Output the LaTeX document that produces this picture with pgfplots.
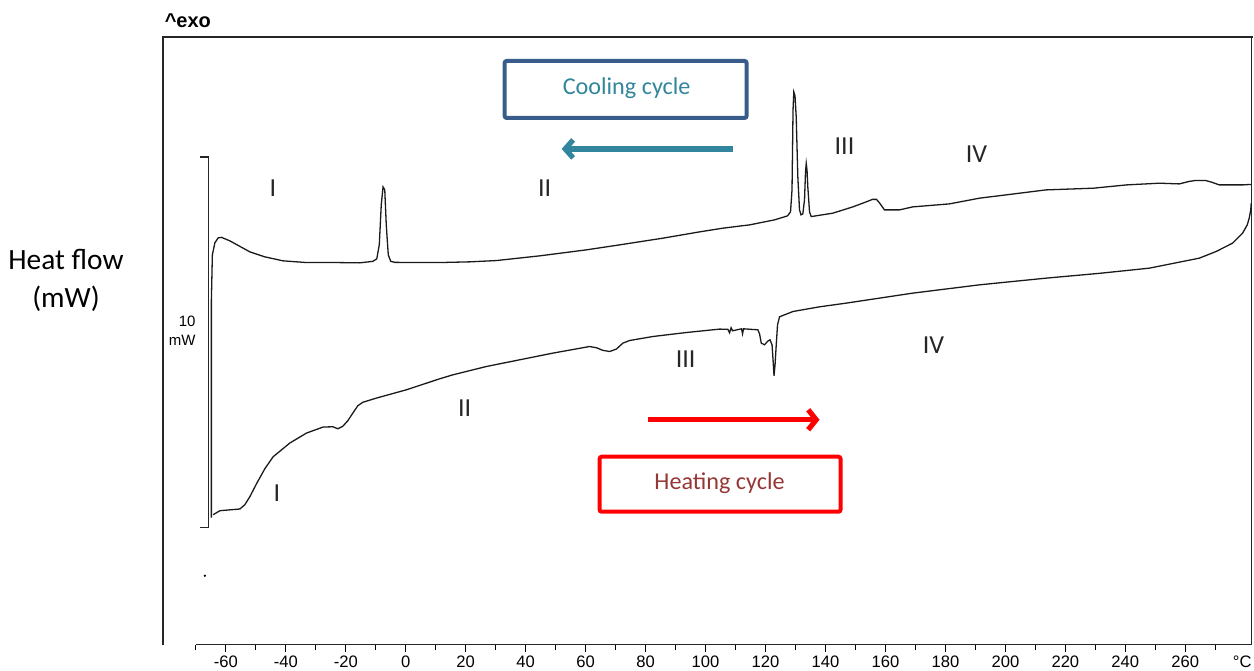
\documentclass[border=0pt]{standalone}
\usepackage{pgfplots}
\pgfplotsset{compat=1.18}
\usepackage{fontspec}
\setmainfont{Liberation Sans}
\newfontfamily\calibri{Carlito}
\usetikzlibrary{arrows.meta}
\definecolor{tealarrow}{HTML}{31859C}
\definecolor{boxblue}{HTML}{385D8A}
\definecolor{darkred}{HTML}{953735}
\definecolor{curve}{HTML}{1A1A1A}

\begin{document}
\begin{tikzpicture}
\begin{axis}[
  scale only axis, width=544.5pt, height=304pt,
  xmin=-81, xmax=282, ymin=37, ymax=645, y dir=reverse,
  axis x line*=bottom, axis y line=none, separate axis lines,
  x axis line style={draw=none},
  xtick={-60,-40,...,260}, minor xtick={-70,-50,...,270},
  tick align=outside, major tick length=3.5pt, minor tick length=2.5pt,
  every tick/.style={black, line width=0.6pt},
  xticklabel style={font=\fontsize{8.3}{10}\selectfont, inner sep=1pt, yshift=-1pt},
  /pgf/number format/assume math mode=true,
  extra x ticks={279}, extra x tick labels={°C},
  extra x tick style={every tick/.style={draw=none}},
  clip=false,
]
% bounding area (whole picture)
\path (axis cs:-135.333,0) rectangle (axis cs:282.667,671);

% frame
\draw[line width=0.75pt, black!85] (axis cs:-81,645) -- (axis cs:-81,37) -- (axis cs:282.667,37);
\draw[line width=0.75pt, black!85] (axis cs:282,37) -- (axis cs:282,645);
\draw[line width=0.75pt, black!85] (axis cs:-70,645) -- (axis cs:282,645);

% 10 mW scale bar
\draw[line width=0.6pt, black!85] (axis cs:-68.67,157) -- (axis cs:-65.77,157) -- (axis cs:-65.77,528) -- (axis cs:-68.67,528);
\addplot[only marks, mark=*, mark size=0.35pt, black] coordinates {(-67,576)};
\node[anchor=east, font=\fontsize{7.5}{9}\selectfont, inner sep=0pt] at (axis cs:-70,322) {10};
\node[anchor=east, font=\fontsize{7.5}{9}\selectfont, inner sep=0pt] at (axis cs:-70,341) {mW};

% cooling curve (upper)
\addplot[curve, line width=0.65pt] coordinates {
(-64.83,518) (-64.83,300) (-64.5,255) (-63.67,243) (-62.57,238) (-61.43,237.5)
(-58.67,241) (-52,252) (-47,257) (-40.9,261) (-33.1,262.7) (-23.1,262.7)
(-15.33,263) (-11,261.5) (-9.67,259) (-8.83,245) (-8.17,205) (-7.57,187)
(-7,190) (-6.5,225) (-5.83,255) (-5,261.5) (-3.67,262.5) (2.43,262.7)
(11.33,262.7) (21.33,262) (30.23,260.7) (44.67,256) (60.23,250) (71.33,245)
(85.77,238.3) (98,232) (105.77,228.3) (114.67,225) (123,220) (127.33,216)
(128.33,212) (128.83,190) (129.17,110) (129.43,92) (129.83,96) (130.23,117)
(130.77,177) (131.33,210) (131.83,215) (132.43,214) (133,200) (133.33,172)
(133.57,163.5) (133.83,170) (134.1,187) (134.67,212) (135.23,216.7)
(142.43,213.3) (149.1,207) (153.57,202) (155.67,199.5) (157,199.5) (158,203)
(159.67,210) (164.67,210) (169.1,207) (181.33,204) (191.33,198.3)
(213.57,190) (229.33,188.3) (240.43,185) (251.33,183.3) (258,184)
(261.33,181.5) (263.57,180.5) (266.9,180.7) (269,182.5) (271.33,185)
(279.1,185) (282,184.5)
};

% heating curve (lower)
\addplot[curve, line width=0.65pt] coordinates {
(-64.23,515) (-62,511) (-55.33,509.3) (-53.67,505) (-52,497) (-49.77,484)
(-47,469) (-44.23,457) (-38.67,443.3) (-33.1,433.3) (-27.57,427.3)
(-24.33,427) (-22.67,429) (-21,426.5) (-19.33,421) (-17.57,413) (-16,406)
(-14.33,402.5) (-9.77,398.3) (0.23,390) (11.33,379) (15.77,375) (26.9,366.7)
(38,360) (49.1,353.3) (61.33,346.7) (63.67,348) (65.67,350.5) (68,351.7)
(70.23,349.3) (72.43,343.3) (74.67,340.7) (82.43,336.7) (93.57,332.7)
(104.67,329.3) (107.43,329.5) (108,333) (108.5,328) (109,331) (112,329)
(112.33,334) (112.67,329) (117.43,330) (118,334) (118.57,343.3)
(119.67,345) (120.67,341.5) (121.5,340) (122.17,345) (122.5,360)
(122.83,376) (123.17,365) (123.57,345) (124,325) (124.67,317)
(129.1,311.7) (138,307) (146.9,303.3) (169.1,293.3) (191.33,285)
(213.57,278.3) (231.33,273.5) (248,268.3) (264.67,258.3) (270.23,251.7)
(275.77,243.3) (279.1,233.3) (280.67,225) (281.33,218) (281.83,210) (282,203)
};

% axis annotations
\node[anchor=west, font=\bfseries\fontsize{10}{12}\selectfont, inner sep=0pt] at (axis cs:-80.5,21) {\textasciicircum exo};
\node[font=\calibri\fontsize{14.7}{19}\selectfont, align=center, text=black] at (axis cs:-113.33,281) {Heat flow\\(mW)};

% cooling box and arrow
\draw[boxblue, line width=2pt, rounded corners=1pt] (axis cs:33,61) rectangle (axis cs:113.67,118);
\node[font=\calibri\fontsize{12.1}{14}\selectfont, text=tealarrow] at (axis cs:73.67,88) {Cooling cycle};
\draw[tealarrow, line width=2.6pt, -{Straight Barb[length=4pt, width=9pt]}] (axis cs:109,149) -- (axis cs:52,149);

% heating box and arrow
\draw[red, line width=2pt, rounded corners=1pt] (axis cs:64.67,457) rectangle (axis cs:145,512);
\node[font=\calibri\fontsize{12.1}{14}\selectfont, text=darkred] at (axis cs:104.67,483) {Heating cycle};
\draw[red, line width=2.6pt, -{Straight Barb[length=4pt, width=10pt]}] (axis cs:80.67,420) -- (axis cs:138,420);

% region labels
\begin{scope}[every node/.style={font=\calibri\fontsize{13}{15}\selectfont, text=black!85}]
\node at (axis cs:-44.33,188) {I};
\node at (axis cs:46.33,188) {II};
\node at (axis cs:146.33,146) {III};
\node at (axis cs:190.33,154) {IV};
\node at (axis cs:-43,493) {I};
\node at (axis cs:19.67,408) {II};
\node at (axis cs:93.33,359) {III};
\node at (axis cs:176,345) {IV};
\end{scope}
\end{axis}
\end{tikzpicture}
\end{document}
